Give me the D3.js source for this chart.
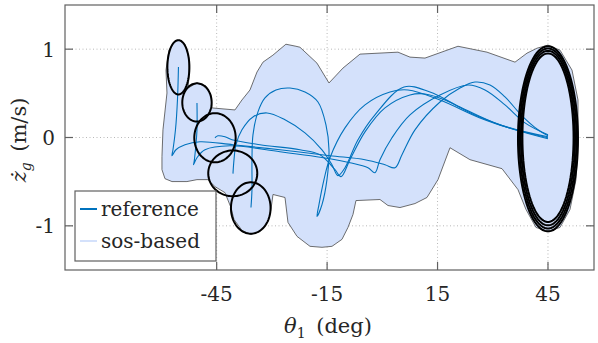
<!DOCTYPE html>
<html><head><meta charset="utf-8">
<script src="https://cdn.jsdelivr.net/npm/d3@7"></script>
<style>html,body{margin:0;padding:0;background:#fff}svg{display:block}text{font-family:"DejaVu Serif",serif;fill:#262626}</style>
</head><body><svg id="c" width="598" height="343"></svg>
<script>
const xTicks = [-45, -15, 15, 45];
const yTicks = [-1, 0, 1];
const xDomain = [-86.2, 57.5];
const yDomain = [-1.5, 1.5];

// sos-based region boundary (theta deg, zdot m/s)
const regionX = [-58.50,-58.77,-57.96,-56.60,-55.24,-53.61,-52.53,-52.53,-52.80,-50.35,-47.91,-46.55,-46.28,-40.03,-38.13,-35.95,-34.05,-32.42,-29.73,-26.19,-23.46,-22.38,-17.76,-14.49,-10.69,-6.07,4.25,7.51,11.59,20.55,28.43,36.04,39.30,42.01,45.0,48.26,51.52,53.15,53.15,52.61,50.98,48.26,45.0,41.74,39.03,36.85,32.51,23.81,18.38,15.12,12.13,8.87,4.80,1.54,-0.64,-7.16,-7.97,-9.33,-10.96,-13.67,-16.39,-19.65,-23.18,-25.63,-26.44,-29.70,-30.25,-31.06,-33.24,-35.68,-38.13,-40.30,-41.12,-42.75,-45.46,-47.36,-50.35,-53.07,-57.14,-59.04,-59.86,-59.86,-59.59];
const regionY = [0.504,0.763,0.989,1.079,1.101,1.056,0.898,0.673,0.560,0.617,0.583,0.481,0.335,0.312,0.425,0.538,0.741,0.853,0.932,1.056,1.033,1.022,0.842,0.617,0.786,0.944,0.966,0.910,0.899,1.033,0.966,0.853,0.955,1.011,1.045,0.989,0.763,0.425,-0.026,-0.477,-0.815,-1.018,-1.063,-1.018,-0.815,-0.590,-0.353,-0.251,-0.116,-0.477,-0.679,-0.748,-0.793,-0.770,-0.702,-0.714,-0.871,-1.018,-1.153,-1.232,-1.243,-1.232,-1.119,-0.961,-0.679,-0.645,-0.815,-0.950,-1.063,-1.097,-1.052,-0.928,-0.793,-0.624,-0.556,-0.477,-0.477,-0.499,-0.499,-0.466,-0.364,-0.218,0.087];

// reference trajectories
const trajA_x = [-55.38,-55.65,-56.19,-56.87,-57.14,-56.06,-53.61,-49.54,-40.57,-27.80,-14.22,-4.71,0.72,3.44,5.34,8.87,15.66,21.10,25.17,29.25,33.32,37.94,42.29,45.0];
const trajA_y = [0.797,0.425,0.087,-0.139,-0.206,-0.139,-0.082,-0.048,-0.082,-0.139,-0.206,-0.251,-0.308,-0.342,-0.195,0.087,0.402,0.560,0.628,0.594,0.459,0.245,0.087,0.019];
const trajB_x = [-50.35,-50.35,-50.76,-51.17,-51.30,-50.35,-48.17,-41.39,-27.80,-14.22,-8.79,-3.90,-2.00,-0.64,2.62,7.51,15.66,23.27,27.89,33.32,38.75,45.0];
const trajB_y = [0.391,0.087,-0.139,-0.285,-0.308,-0.229,-0.139,-0.094,-0.161,-0.240,-0.285,-0.342,-0.398,-0.251,-0.003,0.256,0.481,0.594,0.538,0.369,0.166,0.030];
const trajC_x = [-45.46,-44.65,-42.75,-40.84,-33.24,-22.37,-16.94,-12.86,-11.23,-8.79,-4.71,0.72,7.51,11.59,17.02,25.17,34.68,45.0];
const trajC_y = [-0.003,0.019,0.008,-0.026,-0.082,-0.139,-0.195,-0.364,-0.443,-0.251,0.064,0.335,0.481,0.493,0.425,0.256,0.109,0.008];
const trajD_x = [-40.57,-40.29,-39.76,-38.13,-35.14,-31.33,-26.44,-21.01,-16.39,-13.68,-12.05,-10.14,-6.61,-2.00,5.88,12.94,21.10,31.96,45.0];
const trajD_y = [-0.409,-0.251,-0.082,0.087,0.233,0.278,0.200,0.053,-0.139,-0.308,-0.432,-0.342,-0.026,0.256,0.572,0.515,0.346,0.143,-0.003];
const trajE_x = [-35.68,-35.41,-35.41,-35.14,-33.78,-31.88,-28.90,-25.09,-21.01,-17.48,-15.31,-14.49,-15.04,-16.39,-17.75,-17.21,-15.85,-14.22,-10.14,-4.71,2.08,6.97,15.66,26.53,36.04,45.0];
const trajE_y = [-0.793,-0.590,-0.251,0.030,0.290,0.448,0.538,0.560,0.515,0.402,0.143,-0.139,-0.477,-0.759,-0.894,-0.759,-0.477,-0.229,0.109,0.369,0.515,0.538,0.425,0.222,0.087,-0.015];

// funnel ellipses: centre, half-widths
const ellCx = [-55.4,-50.35,-45.46,-40.63,-35.74,45.0,45.0,45.0,45.0];
const ellCy = [0.795,0.397,-0.003,-0.406,-0.798,-0.015,-0.011,-0.007,-0.002];
const ellRx = [2.99,3.99,5.62,6.66,5.38,8.15,7.75,7.35,6.95];
const ellRy = [0.307,0.216,0.278,0.259,0.291,1.048,1.019,0.988,0.954];

const legendLabels = ["reference", "sos-based"];
const xLabel = "θ", yLabel = "ż";

const svg = d3.select("#c");
const L = 65, R = 594, T = 5, B = 270;
const x = d3.scaleLinear().domain(xDomain).range([L, R]);
const y = d3.scaleLinear().domain(yDomain).range([B, T]);
const blue = "#0072BD", light = "#d4e1fb";

// grid
const g = svg.append("g");
g.selectAll(".gx").data(xTicks).join("line")
  .attr("x1", d => x(d)).attr("x2", d => x(d)).attr("y1", T).attr("y2", B)
  .attr("stroke", "#b8b8b8").attr("stroke-width", 1).attr("stroke-dasharray", "1,2.5");
g.selectAll(".gy").data(yTicks).join("line")
  .attr("x1", L).attr("x2", R).attr("y1", d => y(d)).attr("y2", d => y(d))
  .attr("stroke", "#b8b8b8").attr("stroke-width", 1).attr("stroke-dasharray", "1,2.5");

// region
const region = regionX.map((v, i) => [v, regionY[i]]);
svg.append("path").datum(region)
  .attr("d", d3.line().x(d => x(d[0])).y(d => y(d[1])).curve(d3.curveLinearClosed))
  .attr("fill", light).attr("stroke", "#4a4a4a").attr("stroke-width", 0.8);

// trajectories
const trajs = [[trajA_x, trajA_y], [trajB_x, trajB_y], [trajC_x, trajC_y], [trajD_x, trajD_y], [trajE_x, trajE_y]];
const tl = d3.line().x(d => x(d[0])).y(d => y(d[1])).curve(d3.curveCatmullRom.alpha(0.5));
trajs.forEach(([tx, ty]) => {
  svg.append("path").datum(tx.map((v, i) => [v, ty[i]]))
    .attr("d", tl).attr("fill", "none").attr("stroke", blue).attr("stroke-width", 1.1);
});

// ellipses
const angles = d3.range(0, 361, 4).map(a => a * Math.PI / 180);
ellCx.forEach((cx, i) => {
  const pts = angles.map(a => [cx + ellRx[i] * Math.cos(a), ellCy[i] + ellRy[i] * Math.sin(a)]);
  svg.append("path").datum(pts)
    .attr("d", d3.line().x(d => x(d[0])).y(d => y(d[1])).curve(d3.curveLinearClosed))
    .attr("fill", "none").attr("stroke", "#000").attr("stroke-width", 2);
});

// axes box + ticks
const ax = svg.append("g").attr("stroke", "#606060").attr("stroke-width", 1.2);
ax.append("rect").attr("x", L).attr("y", T).attr("width", R - L).attr("height", B - T).attr("fill", "none");
const tk = 8;
xTicks.forEach(d => {
  ax.append("line").attr("x1", x(d)).attr("x2", x(d)).attr("y1", B).attr("y2", B - tk);
  ax.append("line").attr("x1", x(d)).attr("x2", x(d)).attr("y1", T).attr("y2", T + tk);
});
yTicks.forEach(d => {
  ax.append("line").attr("x1", L).attr("x2", L + tk).attr("y1", y(d)).attr("y2", y(d));
  ax.append("line").attr("x1", R).attr("x2", R - tk).attr("y1", y(d)).attr("y2", y(d));
});

// tick labels
svg.selectAll(".xt").data(xTicks).join("text")
  .attr("x", d => x(d)).attr("y", 301).attr("text-anchor", "middle")
  .attr("font-size", 20).text(d => d);
svg.selectAll(".yt").data(yTicks).join("text")
  .attr("x", 55).attr("y", d => y(d) + 7.5).attr("text-anchor", "end")
  .attr("font-size", 20).text(d => d);

// axis labels
const xl = svg.append("text").attr("x", 328).attr("y", 333).attr("text-anchor", "middle").attr("font-size", 21);
xl.append("tspan").attr("font-style", "italic").text(xLabel);
xl.append("tspan").attr("font-size", 14).attr("dy", 5).text("1");
xl.append("tspan").attr("dy", -5).text("\u2002(deg)");

const yl = svg.append("text").attr("transform", "translate(26,140) rotate(-90)").attr("text-anchor", "middle").attr("font-size", 21);
yl.append("tspan").attr("font-style", "italic").text(yLabel);
yl.append("tspan").attr("font-style", "italic").attr("font-size", 14).attr("dy", 5).text("g");
yl.append("tspan").attr("dy", -5).text("\u2002(m/s)");

// legend
const lg = svg.append("g");
lg.append("rect").attr("x", 75).attr("y", 191).attr("width", 141).attr("height", 70)
  .attr("fill", "#fff").attr("stroke", "#606060").attr("stroke-width", 1.2);
const lc = [blue, light];
legendLabels.forEach((t, i) => {
  const yy = 209 + i * 32;
  lg.append("line").attr("x1", 80).attr("x2", 97).attr("y1", yy).attr("y2", yy)
    .attr("stroke", lc[i]).attr("stroke-width", 2);
  lg.append("text").attr("x", 101).attr("y", yy + 6.5).attr("font-size", 20).text(t);
});
</script></body></html>
